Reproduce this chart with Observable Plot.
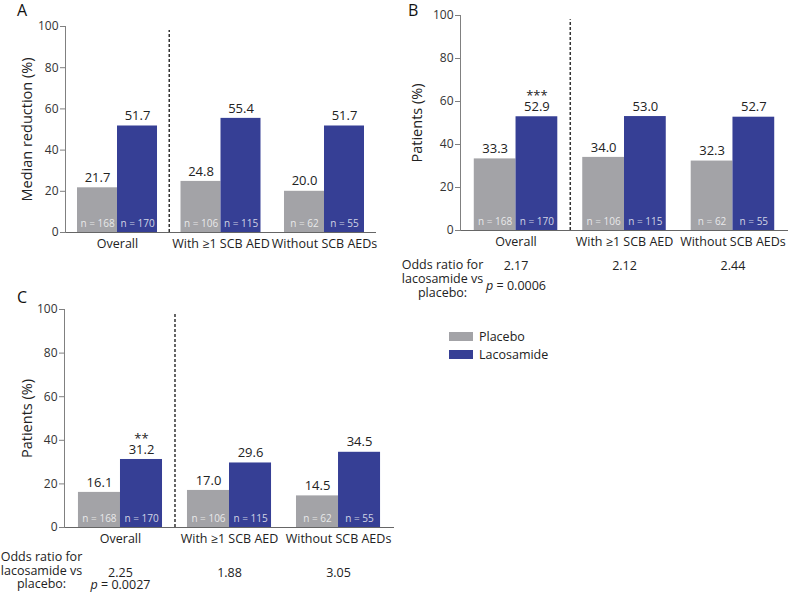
<!DOCTYPE html>
<html>
<head>
<meta charset="utf-8">
<script src="https://cdn.jsdelivr.net/npm/d3@7"></script>
<script src="https://cdn.jsdelivr.net/npm/@observablehq/plot@0.6"></script>
<style>
  body { margin: 0; background: #fff; font-family: "Open Sans", sans-serif; }
  #root { position: relative; width: 789px; height: 595px; overflow: hidden; background: #fff; }
  .panel { position: absolute; }
  .letter { position: absolute; font-size: 16px; line-height: 16px; color: #111; }
  .legend-row { position: absolute; display: flex; align-items: center; height: 15px; font-size: 12.5px; color: #222; }
  .swatch { width: 24px; height: 9px; margin-right: 6px; }
</style>
</head>
<body>
<div id="root"></div>
<script>
// ---- data ----
const categories = ["Overall", "With ≥1 SCB AED", "Without SCB AEDs"];
const series = ["Placebo", "Lacosamide"];
const colors = ["#a3a3a7", "#363f95"];
const yTicks = [0, 20, 40, 60, 80, 100];

const nPlacebo = [168, 106, 62];
const nLacosamide = [170, 115, 55];

const aPlacebo = [21.7, 24.8, 20.0];
const aLacosamide = [51.7, 55.4, 51.7];

const bPlacebo = [33.3, 34.0, 32.3];
const bLacosamide = [52.9, 53.0, 52.7];
const bStars = ["***", "", ""];
const bOdds = ["2.17", "2.12", "2.44"];
const bP = "0.0006";

const cPlacebo = [16.1, 17.0, 14.5];
const cLacosamide = [31.2, 29.6, 34.5];
const cStars = ["**", "", ""];
const cOdds = ["2.25", "1.88", "3.05"];
const cP = "0.0027";

const oddsLabel = "Odds ratio for\nlacosamide vs\nplacebo:";

const root = document.getElementById("root");

function panel(cfg) {
  const rows = categories.map((c, i) => ({
    category: c,
    placebo: cfg.placebo[i],
    lacosamide: cfg.lacosamide[i],
    nP: nPlacebo[i],
    nL: nLacosamide[i],
    stars: cfg.stars ? cfg.stars[i] : "",
    odds: cfg.odds ? cfg.odds[i] : ""
  }));
  const xOpts = {type: "band", domain: categories, paddingInner: cfg.pi, paddingOuter: cfg.po, round: false};
  const xs = Plot.scale({x: {...xOpts, range: [cfg.ml, cfg.width - cfg.mr]}});
  const bw = xs.bandwidth, step = xs.step;

  const marks = [
    Plot.barY(rows, {x: "category", y: "placebo", fill: colors[0], insetRight: bw / 2, insetLeft: 0}),
    Plot.barY(rows, {x: "category", y: "lacosamide", fill: colors[1], insetLeft: bw / 2, insetRight: 0}),
    Plot.ruleY([0], {stroke: "#666", strokeWidth: 1}),
    Plot.frame({anchor: "left", stroke: "#808080", strokeWidth: 1}),
    Plot.ruleX([categories[1]], {x: d => d, y1: 0, y2: 98, dx: -step / 2, stroke: "#333", strokeWidth: 1.5, strokeDasharray: "3,2"}),
    Plot.axisY({ticks: yTicks, tickSize: 5, tickPadding: 2, fontSize: 12, label: null, stroke: "#808080", fill: "#333", tickFormat: d => d}),
    Plot.axisX({tickSize: 0, tickPadding: 7, fontSize: 12.5, label: null, fill: "#222"}),
    Plot.text([cfg.yLabel], {text: d => d, frameAnchor: "left", rotate: -90, dx: cfg.labelDx, textAnchor: "middle", fontSize: 14.5, fill: "#222"}),
    Plot.text(rows, {x: "category", y: "placebo", text: d => d.placebo.toFixed(1), dx: -bw / 4, dy: -10, lineAnchor: "middle", fontSize: 13, fill: "#222"}),
    Plot.text(rows, {x: "category", y: "lacosamide", text: d => d.lacosamide.toFixed(1), dx: bw / 4, dy: -10, lineAnchor: "middle", fontSize: 13, fill: "#222"}),
    Plot.text(rows, {x: "category", text: d => `n = ${d.nP}`, frameAnchor: "bottom", dx: -bw / 4, dy: -9, lineAnchor: "middle", fontSize: 10, fill: "white", fillOpacity: 0.78}),
    Plot.text(rows, {x: "category", text: d => `n = ${d.nL}`, frameAnchor: "bottom", dx: bw / 4, dy: -9, lineAnchor: "middle", fontSize: 10, fill: "white", fillOpacity: 0.78})
  ];
  if (cfg.stars) {
    marks.push(Plot.text(rows.filter(d => d.stars), {x: "category", y: "lacosamide", text: "stars", dx: bw / 4, dy: -21, lineAnchor: "middle", fontSize: 13, fill: "#222"}));
  }
  if (cfg.odds) {
    marks.push(Plot.text(rows, {x: "category", text: "odds", frameAnchor: "bottom", dy: cfg.oddsDy, lineAnchor: "middle", fontSize: 12.5, fill: "#222"}));
    marks.push(Plot.text([cfg.p], {x: () => categories[0], text: d => `p = ${d}`, frameAnchor: "bottom", dy: cfg.pDy, lineAnchor: "middle", fontSize: 12.5, fill: "#222"}));
    marks.push(Plot.text([oddsLabel], {text: d => d, frameAnchor: "bottom-left", dx: cfg.oddsLabelDx, dy: cfg.oddsLabelDy, lineAnchor: "middle", textAnchor: "middle", lineHeight: cfg.oddsLH, fontSize: 12.5, fill: "#222"}));
  }

  const svg = Plot.plot({
    width: cfg.width,
    height: cfg.height,
    marginLeft: cfg.ml,
    marginRight: cfg.mr,
    marginTop: cfg.mt,
    marginBottom: cfg.mb,
    style: {fontFamily: "Open Sans, sans-serif", fontSize: "12px", color: "#222", background: "transparent", overflow: "visible"},
    x: {...xOpts, axis: null},
    y: {domain: [0, 100], axis: null},
    marks
  });
  // italic p
  d3.select(svg).selectAll("text").each(function () {
    const t = this.textContent;
    if (t.startsWith("p = ")) {
      const rest = t.slice(1);
      const sel = d3.select(this);
      sel.text(null);
      sel.append("tspan").attr("font-style", "italic").text("p");
      sel.append("tspan").text(rest);
    }
  });
  const wrap = document.createElement("div");
  wrap.className = "panel";
  wrap.style.left = cfg.left + "px";
  wrap.style.top = cfg.top + "px";
  wrap.appendChild(svg);
  root.appendChild(wrap);

  const letter = document.createElement("div");
  letter.className = "letter";
  letter.textContent = cfg.letter;
  letter.style.left = cfg.letterX + "px";
  letter.style.top = cfg.letterY + "px";
  root.appendChild(letter);
}

panel({letter: "A", letterX: 17, letterY: 2, left: 0, top: 0, width: 390, height: 290, ml: 65, mr: 14, mt: 26, mb: 58, pi: 0.227, po: 0.116,
  yLabel: "Median reduction (%)", labelDx: -38, placebo: aPlacebo, lacosamide: aLacosamide});
panel({letter: "B", letterX: 408, letterY: 2, left: 390, top: 0, width: 399, height: 300, ml: 70, mr: 1, mt: 15, mb: 70, pi: 0.23, po: 0.127,
  yLabel: "Patients (%)", labelDx: -43, placebo: bPlacebo, lacosamide: bLacosamide, stars: bStars, odds: bOdds, p: bP,
  oddsDy: 35, pDy: 55, oddsLabelDx: -18, oddsLabelDy: 48, oddsLH: 1.1});
panel({letter: "C", letterX: 17, letterY: 289, left: 0, top: 290, width: 400, height: 305, ml: 64, mr: 6, mt: 19, mb: 68, pi: 0.229, po: 0.128,
  yLabel: "Patients (%)", labelDx: -37, placebo: cPlacebo, lacosamide: cLacosamide, stars: cStars, odds: cOdds, p: cP,
  oddsDy: 45, pDy: 57, oddsLabelDx: -23, oddsLabelDy: 43, oddsLH: 1.07});

// legend
series.forEach((s, i) => {
  const row = document.createElement("div");
  row.className = "legend-row";
  row.style.left = "449px";
  row.style.top = (329 + i * 18) + "px";
  const sw = document.createElement("div");
  sw.className = "swatch";
  sw.style.background = colors[i];
  const lab = document.createElement("span");
  lab.textContent = s;
  row.appendChild(sw);
  row.appendChild(lab);
  root.appendChild(row);
});
</script>
</body>
</html>
